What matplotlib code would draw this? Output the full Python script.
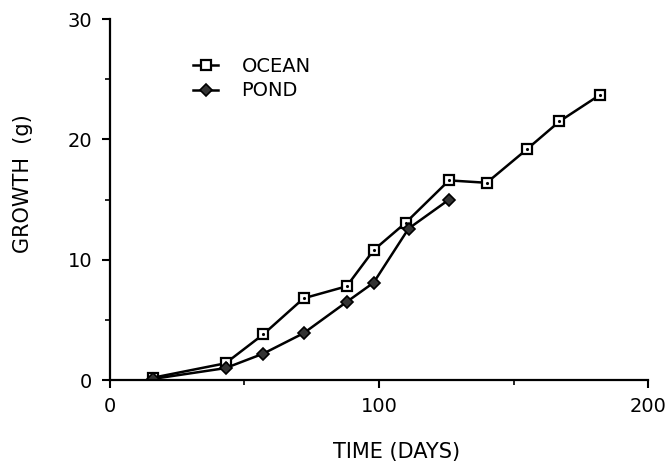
import matplotlib.pyplot as plt
from matplotlib.ticker import MultipleLocator

# growth of fish raised in ocean pens vs. pond
ocean_days = [16, 43, 57, 72, 88, 98, 110, 126, 140, 155, 167, 182]
ocean_growth = [0.2, 1.4, 3.8, 6.8, 7.8, 10.8, 13.1, 16.6, 16.4, 19.2, 21.5, 23.7]

pond_days = [16, 43, 57, 72, 88, 98, 111, 126]
pond_growth = [0.1, 1.0, 2.2, 3.9, 6.5, 8.1, 12.6, 15.0]

fig = plt.figure(figsize=(6.69, 4.67), dpi=100)
ax = fig.add_axes([0.164, 0.186, 0.805, 0.773])

ax.plot(ocean_days, ocean_growth, color="black", lw=1.8, marker="s", ms=7,
        mfc="white", mec="black", mew=1.6, label="OCEAN")
ax.plot(ocean_days, ocean_growth, ls="none", marker=".", ms=2.5, color="black")
ax.plot(pond_days, pond_growth, color="black", lw=1.8, marker="D", ms=6,
        mfc="#333333", mec="black", mew=1.2, label="POND")

ax.set_xlim(0, 200)
ax.set_ylim(0, 30)
ax.xaxis.set_major_locator(MultipleLocator(100))
ax.xaxis.set_minor_locator(MultipleLocator(50))
ax.yaxis.set_major_locator(MultipleLocator(10))
ax.yaxis.set_minor_locator(MultipleLocator(5))

for side in ["top", "right"]:
    ax.spines[side].set_visible(False)
for side in ["left", "bottom"]:
    ax.spines[side].set_linewidth(1.6)

ax.tick_params(which="major", direction="out", length=5.5, width=1.5,
               labelsize=14, pad=7)
ax.tick_params(which="minor", direction="out", length=3.5, width=1.2)

fig.text(0.593, 0.032, "TIME (DAYS)", ha="center", va="center", fontsize=15)
fig.text(0.035, 0.606, "GROWTH  (g)", ha="center", va="center", fontsize=15,
         rotation=90)

ax.legend(loc="upper left", bbox_to_anchor=(0.122, 0.945), frameon=False,
          fontsize=14, handlelength=1.3, handletextpad=1.2, labelspacing=0.3)

fig.savefig("out.png", dpi=100)
